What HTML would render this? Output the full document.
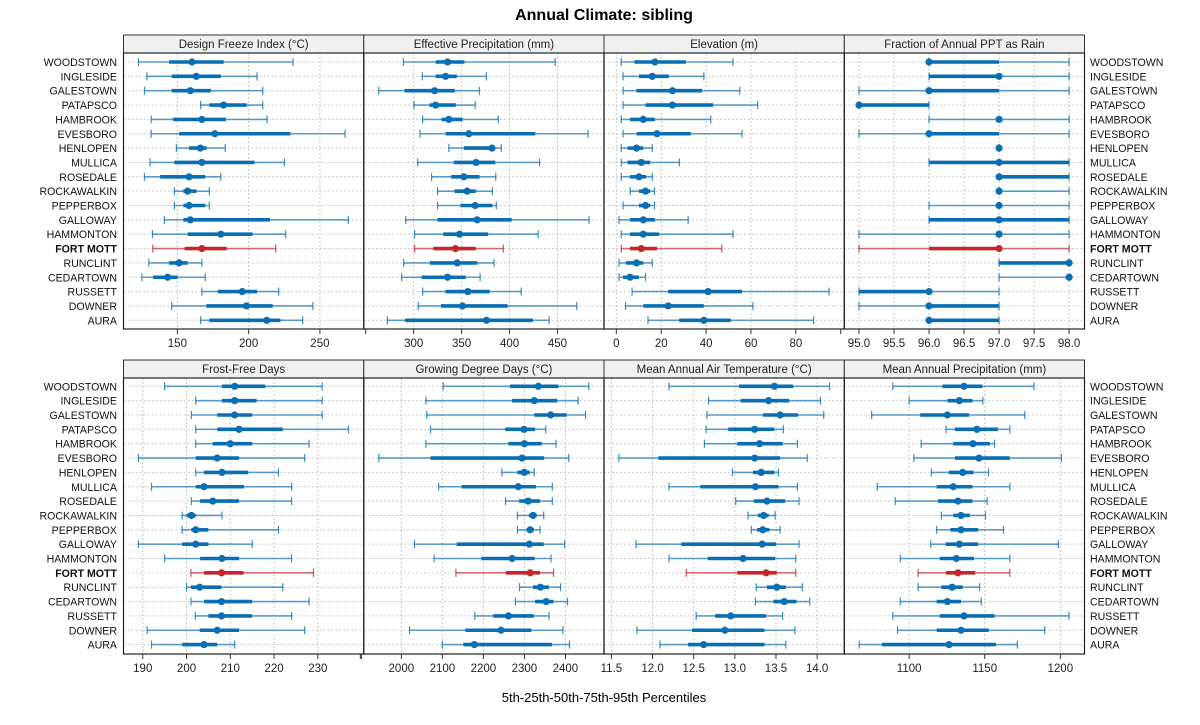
<!DOCTYPE html>
<html><head><meta charset="utf-8"><style>
html,body{margin:0;padding:0;background:#fff;}
svg{display:block;font-family:"Liberation Sans",Arial,sans-serif;}
</style></head><body>
<svg id="chart" width="1200" height="725" viewBox="0 0 1200 725">
<text x="604" y="20" text-anchor="middle" font-size="16" font-weight="bold">Annual Climate: sibling</text>
<text x="604" y="702" text-anchor="middle" font-size="13">5th-25th-50th-75th-95th Percentiles</text>
</svg>
<script>
const siteNames = ["WOODSTOWN","INGLESIDE","GALESTOWN","PATAPSCO","HAMBROOK","EVESBORO","HENLOPEN","MULLICA","ROSEDALE","ROCKAWALKIN","PEPPERBOX","GALLOWAY","HAMMONTON","FORT MOTT","RUNCLINT","CEDARTOWN","RUSSETT","DOWNER","AURA"];
const highlightSite = "FORT MOTT";
const panelTitles = ["Design Freeze Index (\u00B0C)","Effective Precipitation (mm)","Elevation (m)","Fraction of Annual PPT as Rain","Frost-Free Days","Growing Degree Days (\u00B0C)","Mean Annual Air Temperature (\u00B0C)","Mean Annual Precipitation (mm)"];
const freezeIndex = [[122.7,144.2,160.3,182.5,231.2],[128.6,146,163.3,180.5,205.9],[126.9,146,159.1,173.5,209.9],[166.3,172.4,182.4,198.7,209.9],[131.6,147,167.2,184,212.9],[131.6,151.2,176.3,229.3,267.7],[149.3,158.2,166.1,170.5,183.6],[130.9,147.9,167.2,204.1,225.1],[126.9,137.9,158.2,169.6,180.5],[147.9,154.2,157.2,163.5,172.4],[147.9,154.2,158.2,169.6,172.4],[140.9,154.2,159.1,215,270],[132.5,157.2,180.5,202.7,226],[132.8,155.1,167.2,184.7,219],[130,144.2,151.2,157.2,167.2],[125.1,133,143.2,150.2,169.6],[167.2,178.4,195.5,205.9,221.1],[146,170.3,198.5,216.9,245.1],[166.3,172.4,212.7,222.3,237.9]];
const effPrecip = [[289.3,322.9,335.3,353,447.6],[309,322.9,333.3,345,375.9],[263.6,290.6,321.8,343,368.6],[300.3,316.6,322.9,344,364.1],[309.4,329.1,336.7,350.9,388.3],[306.6,333.3,357.5,426.8,481.8],[336.7,352.3,381.7,384.2,391.4],[304.2,341.9,365.1,385.2,431.3],[318.7,339.1,352.3,368.6,385.6],[324.9,342.6,355.8,364.8,382.1],[324.9,348.8,364.1,382.1,386.2],[291.7,324.9,366.2,402.2,482.9],[301,330.8,347.8,377.6,429.9],[301,320.4,343.6,364.8,393.5],[289.6,317,345.4,366.5,383.8],[287.5,308.3,335.3,354.4,369.3],[309.4,333.3,356.5,379.3,412.2],[304.8,328.4,350.9,398,470.1],[272.6,291,375.9,424.3,441.3]];
const elevation = [[2.2,8.1,17.2,31,52],[3,10.1,16,23.4,39],[3,9,25,38.2,55],[3,13,25,43.1,63],[2.2,6.1,12,17.2,42.1],[3,9,18.1,33.2,56],[2.2,5,9,12,16],[2.2,5,11.1,15.1,28.1],[2.2,6.1,10.1,13.3,16],[6.2,10.1,13,15.1,17],[3,10.1,13,15.1,17],[1.2,6.1,12,17.2,32],[2.2,6.1,12,19.1,52],[2.2,6.1,11.1,18.1,47],[1.2,4.3,9,12,16],[1.2,3,6.1,10.1,13],[7,23.1,40.9,56,94.8],[4.1,12,23.1,39,60.9],[14.1,28,39,51,87.9]];
const rainFraction = [[96,96,96,97,98],[96,96,97,97,98],[95,96,96,97,98],[95,95,95,96,96],[96,97,97,97,98],[95,96,96,97,98],[97,97,97,97,97],[96,96,97,98,98],[97,97,97,98,98],[97,97,97,97,98],[96,97,97,97,98],[96,96,97,98,98],[95,97,97,97,98],[95,96,97,97,98],[97,97,98,98,98],[97,98,98,98,98],[95,95,96,96,97],[95,96,96,97,97],[96,96,96,97,97]];
const frostFree = [[195,208.1,211,218,231],[202.1,208.1,211,216,231],[201.1,207,211,215,231],[202.1,207,212,222,237],[202.1,206,210,215,228],[189,202.1,207,212,227],[202.1,204,208.1,214.1,221],[192,202.1,204,213.1,224],[201.1,203.1,206,212,224],[199,200,201.1,202.1,208.1],[199,201.1,202.1,205,221],[189,199,202.1,205,215],[195,203.1,208.1,212,224],[201,204,208,213,229],[200,201,203,208,222],[201,204,208,215,228],[202,205,208,215,224],[191,203,207,212,227],[192,199,204,207,211]];
const growingDD = [[2102,2265,2334,2383,2457],[2060,2270,2324,2380,2431],[2062,2324,2364,2403,2449],[2071,2253,2299,2326,2352],[2060,2261,2300,2342,2377],[1945,2071,2294,2348,2408],[2245,2283,2300,2313,2324],[2091,2147,2285,2328,2368],[2254,2287,2309,2338,2368],[2283,2311,2321,2330,2347],[2283,2305,2314,2323,2338],[2032,2135,2312,2347,2398],[2080,2195,2270,2325,2365],[2133,2255,2314,2338,2371],[2288,2321,2339,2360,2388],[2278,2326,2353,2371,2405],[2179,2224,2261,2323,2360],[2020,2156,2243,2317,2394],[2100,2151,2178,2367,2410]];
const airTemp = [[12.2,13.05,13.48,13.71,14.15],[12.68,13.07,13.41,13.66,14.04],[12.66,13.34,13.55,13.77,14.08],[12.65,12.92,13.24,13.48,13.59],[12.63,13.03,13.3,13.58,13.76],[11.59,12.07,13.24,13.55,13.88],[12.97,13.22,13.32,13.48,13.53],[12.2,12.58,13.25,13.53,13.76],[13.01,13.23,13.39,13.61,13.78],[13.16,13.28,13.35,13.41,13.49],[13.2,13.27,13.34,13.42,13.55],[11.8,12.35,13.33,13.5,13.78],[12.2,12.67,13.1,13.49,13.74],[12.41,13.03,13.38,13.51,13.74],[13.26,13.39,13.51,13.62,13.82],[13.25,13.47,13.6,13.75,13.91],[12.53,12.76,12.95,13.38,13.58],[11.81,12.48,12.88,13.36,13.73],[12.09,12.43,12.62,13.36,13.62]];
const annualPrecip = [[1089.2,1122,1136.3,1148.4,1182.6],[1100,1125.3,1133.2,1141.8,1148.8],[1075.2,1107.3,1125.3,1139.6,1176.5],[1124.4,1130.3,1144.8,1158.7,1166.6],[1107.9,1129.2,1142.2,1153.4,1156.5],[1103.1,1130.3,1146.2,1166.6,1200.7],[1114.7,1126.2,1135.4,1142.6,1152.5],[1078.9,1118.2,1129.2,1141.8,1166.6],[1090.8,1119.1,1132.3,1141.8,1151.6],[1121.3,1129.2,1134.3,1140.2,1150.5],[1118.2,1127.3,1134.3,1145.7,1162.4],[1114.3,1124.2,1133.2,1145.7,1198.7],[1094.1,1120.2,1131.2,1142.9,1166.6],[1105.9,1124.4,1132.3,1143.7,1166.6],[1105.9,1121.3,1128.4,1135.4,1146.6],[1094.1,1118.2,1125.3,1134.3,1147.7],[1089.2,1120.2,1136.3,1156.5,1205.7],[1092.3,1118.2,1134.3,1152.7,1189.7],[1067,1082,1126.4,1157.4,1171.6]];
const tickLabels = [["150","200","250"],["300","350","400","450"],["0","20","40","60","80"],["95.0","95.5","96.0","96.5","97.0","97.5","98.0"],["190","200","210","220","230"],["2000","2100","2200","2300","2400"],["11.5","12.0","12.5","13.0","13.5","14.0"],["1100","1150","1200"]];
const extraTicks = [[],[250],[100],[],[240],[1900],[],[]];
const panelData = [freezeIndex,effPrecip,elevation,rainFraction,frostFree,growingDD,airTemp,annualPrecip];
const domains = [[112.2,280.8],[248,498.5],[-5.5,101.6],[94.79,98.22],[185.6,240.5],[1908.5,2494],[11.41,14.33],[1057.1,1216]];

const svg = document.getElementById('chart');
const NS = 'http://www.w3.org/2000/svg';
function mk(tag, attrs, parent){const e=document.createElementNS(NS,tag);for(const k in attrs)e.setAttribute(k,attrs[k]);(parent||svg).appendChild(e);return e;}
const PX = [123.5,363.8,604,844.3,1084.5];
const ROWS = [{stripTop:35,top:53,bottom:329,y0:62},{stripTop:360,top:378,bottom:654,y0:386.3}];
const rowStep = 14.35;
const BLUE='#0a6fb2', RED='#c1272d';

for(let p=0;p<8;p++){
  const col=p%4, r=ROWS[Math.floor(p/4)];
  const x0=PX[col], x1=PX[col+1];
  const [d0,d1]=domains[p];
  const sx=v=>x0+(v-d0)/(d1-d0)*(x1-x0);
  const yAt=i=>r.y0+i*rowStep;
  const g=mk('g',{});
  
  
  const strip=mk('rect',{x:x0,y:r.stripTop,width:x1-x0,height:r.top-r.stripTop,fill:'#f0f0f0',stroke:'#333','stroke-width':1},g);
  
  
  const st=mk('text',{x:(x0+x1)/2,y:r.stripTop+13,'text-anchor':'middle','font-size':11.5,fill:'#222'},g);
  st.textContent=panelTitles[p];
  
  
  tickLabels[p].forEach(t=>{
    const x=sx(parseFloat(t));
    mk('line',{x1:x,x2:x,y1:r.top,y2:r.bottom,stroke:'#c8c8c8','stroke-dasharray':'2,2','stroke-width':1},g);
    mk('line',{x1:x,x2:x,y1:r.bottom,y2:r.bottom+5,stroke:'#333'},g);
    const tl=mk('text',{x:x,y:r.bottom+18,'text-anchor':'middle','font-size':11.5,fill:'#222'},g);
    tl.textContent=t;
    
    
  });
  extraTicks[p].forEach(v=>{const x=sx(v);mk('line',{x1:x,x2:x,y1:r.bottom,y2:r.bottom+5,stroke:'#333'},g);});
  siteNames.forEach((n,i)=>{
    mk('line',{x1:x0,x2:x1,y1:yAt(i),y2:yAt(i),stroke:'#c8c8c8','stroke-dasharray':'2,2','stroke-width':1},g);
  });
  panelData[p].forEach((q,i)=>{
    const y=yAt(i), c=siteNames[i]===highlightSite?RED:BLUE;
    const s=mk('g',{},g);
    
    
    mk('line',{x1:sx(q[0]),x2:sx(q[4]),y1:y,y2:y,stroke:c,'stroke-width':1.6,'stroke-opacity':0.65},s);
    mk('line',{x1:sx(q[0]),x2:sx(q[0]),y1:y-4,y2:y+4,stroke:c,'stroke-width':1.2,'stroke-opacity':0.8},s);
    mk('line',{x1:sx(q[4]),x2:sx(q[4]),y1:y-4,y2:y+4,stroke:c,'stroke-width':1.2,'stroke-opacity':0.8},s);
    mk('line',{x1:sx(q[1]),x2:sx(q[3]),y1:y,y2:y,stroke:c,'stroke-width':3.6},s);
    mk('circle',{cx:sx(q[2]),cy:y,r:3.6,fill:c},s);
  });
  const fr=mk('rect',{x:x0,y:r.top,width:x1-x0,height:r.bottom-r.top,fill:'none',stroke:'#222','stroke-width':1.2},g);
  
  
  if(col===0||col===3){
    siteNames.forEach((n,i)=>{
      const t=mk('text',{x:col===0?117:1090,y:yAt(i)+4,'text-anchor':col===0?'end':'start','font-size':10.6,fill:'#111'},g);
      if(n===highlightSite)t.setAttribute('font-weight','bold');
      t.textContent=n;
      
      
    });
  }
}
</script>
</body></html>
